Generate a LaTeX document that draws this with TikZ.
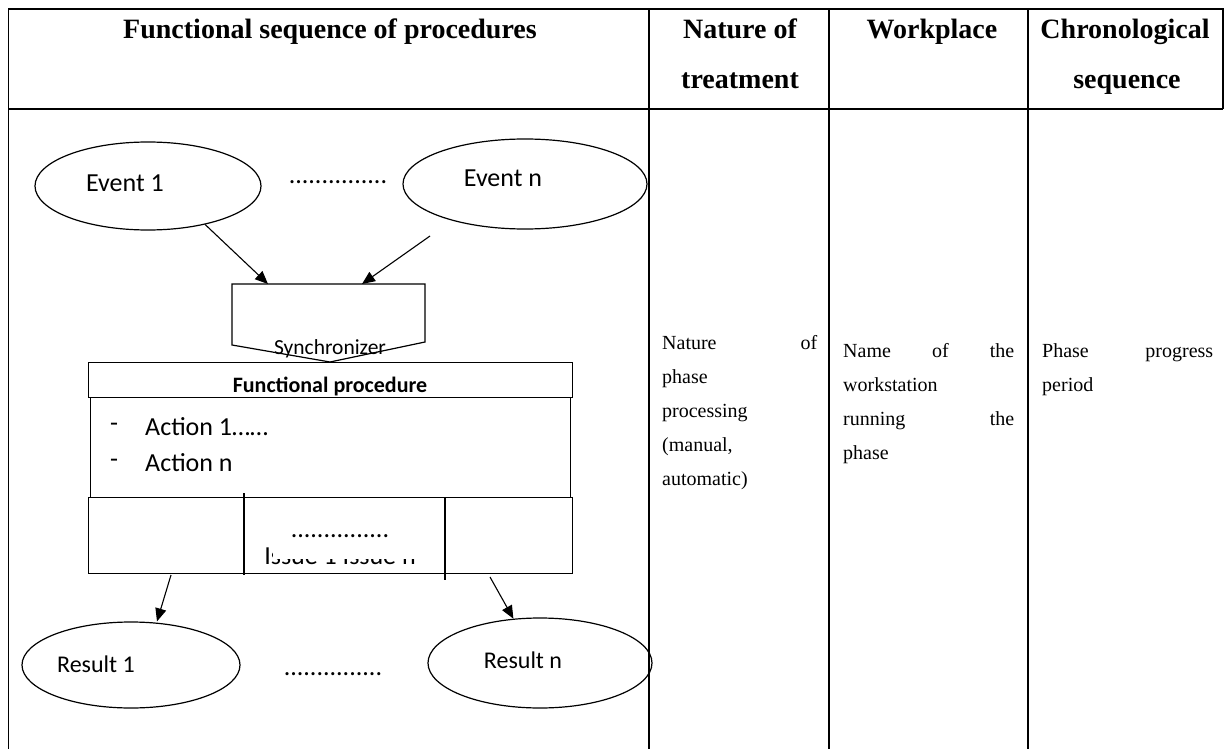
\documentclass[tikz,border=0pt]{standalone}
\usepackage{fontspec}
\setmainfont{Liberation Serif}
\newfontfamily\diafont{Carlito}
\usetikzlibrary{shapes.geometric,arrows.meta}
\begin{document}
\begin{tikzpicture}[x=1pt,y=-1pt,
  rule/.style={line width=1.5pt},
  thinrule/.style={line width=1.1pt},
  head/.style={font=\fontsize{28}{28}\selectfont\bfseries, inner sep=0, anchor=base},
  body/.style={font=\fontsize{20}{20}\selectfont, inner sep=0, anchor=base west},
  dia/.style={font=\diafont\fontsize{26}{26}\selectfont, inner sep=0},
  diasmall/.style={font=\diafont\fontsize{24}{24}\selectfont, inner sep=0},
  diasync/.style={font=\diafont\fontsize{21.5}{21.5}\selectfont, inner sep=0},
  diabold/.style={font=\diafont\bfseries\fontsize{22}{22}\selectfont, inner sep=0},
  oval/.style={draw, ellipse, line width=1.2pt, inner sep=0},
  flow/.style={-{Triangle[length=13pt,width=11pt]}, line width=1.1pt},
  box/.style={draw, line width=1.2pt}
]
\useasboundingbox (0,0) rectangle (1226,749);
\fill[white] (0,0) rectangle (1226,749);

% table frame and column rules
\draw[rule] (8.5,749) -- (8.5,9) -- (1223,9) -- (1223,109);
\draw[rule] (8.5,109) -- (1223,109);
\draw[thinrule] (649,9) -- (649,749);
\draw[thinrule] (829,9) -- (829,749);
\draw[thinrule] (1028,9) -- (1028,749);

% header
\node[head] (h1) at (330,39) {Functional sequence of procedures};
\node[head] (h2a) at (740,39) {Nature of};
\node[head] (h2b) at (740,89) {treatment};
\node[head] (h3) at (932,39) {Workplace};
\node[head] (h4a) at (1125,39) {Chronological};
\node[head] (h4b) at (1127,89) {sequence};

% nature of treatment column
\node[body] (n1) at (662,349) {\hbox to 155pt{Nature\hfill of}};
\node[body] (n2) at (662,383) {phase};
\node[body] (n3) at (662,417) {processing};
\node[body] (n4) at (662,451) {(manual,};
\node[body] (n5) at (662,485) {automatic)};

% workplace column
\node[body] (w1) at (843,357) {\hbox to 171pt{Name\hfill of\hfill the}};
\node[body] (w2) at (843,391) {workstation};
\node[body] (w3) at (843,425) {\hbox to 171pt{running\hfill the}};
\node[body] (w4) at (843,459) {phase};

% chronological column
\node[body] (c1) at (1042,357) {\hbox to 171pt{Phase\hfill progress}};
\node[body] (c2) at (1042,391) {period};

% events
\node[oval, minimum width=226pt, minimum height=88pt] (ev1) at (148,186) {};
\node[dia] (ev1t) at (125,183) {Event 1};
\node[oval, minimum width=244pt, minimum height=90pt] (evn) at (525,184) {};
\node[dia] (evnt) at (503,178) {Event n};
\node[dia] (evdots) at (338,182) {...............};

% synchronizer
\coordinate (sa) at (232,284);
\coordinate (sb) at (425,284);
\coordinate (sc) at (425,342);
\coordinate (sd) at (330,362);
\coordinate (se) at (232,345);
\draw[line width=1.2pt] (sa) -- (sb) -- (sc) -- (sd) -- (se) -- cycle;
\node[diasync] (synct) at (330,349) {Synchronizer};
\coordinate (sin1) at (268,284);
\coordinate (sin2) at (362,284);
\coordinate (evnfoot) at (430,236);
\draw[flow] (ev1.-34) -- (sin1);
\draw[flow] (evnfoot) -- (sin2);

% functional procedure block
\node[box, minimum width=484pt, minimum height=35pt, anchor=north west] (fp) at (88,362) {};
\node[diabold] (fpt) at (330,386) {Functional procedure};
\node[box, minimum width=480pt, minimum height=100pt, anchor=north west] (act) at (90,397) {};
\node[dia, anchor=west] (a1d) at (110,427) {-};
\node[dia, anchor=west] (a1) at (145,427) {Action 1……};
\node[dia, anchor=west] (and) at (110,463) {-};
\node[dia, anchor=west] (an) at (145,463) {Action n};
\node[box, minimum width=484pt, minimum height=76pt, anchor=north west] (iss) at (88,497) {};
\draw[line width=1.2pt] (244,493) -- (244,575);
\draw[line width=1.2pt] (445,497) -- (445,580);
\node[dia] (issdots) at (340,536) {...............};
% issue labels, only their lower edge shows
\begin{scope}
  \clip (262,546) rectangle (272,572) (250,559) rectangle (440,572);
  \node[dia, anchor=base] (isst) at (340,564) {Issue 1 Issue n};
\end{scope}

% results
\node[oval, minimum width=218pt, minimum height=86pt] (res1) at (131,665) {};
\node[diasmall] (res1t) at (96,664) {Result 1};
\node[oval, minimum width=224pt, minimum height=90pt] (resn) at (540,663) {};
\node[diasmall] (resnt) at (523,660) {Result n};
\node[dia] (resdots) at (333,674) {...............};
\coordinate (out1) at (171,575);
\coordinate (out2) at (490,577);
\draw[flow] (out1) -- (res1.north -| 157,0);
\draw[flow] (out2) -- (resn.121);
\end{tikzpicture}
\end{document}
